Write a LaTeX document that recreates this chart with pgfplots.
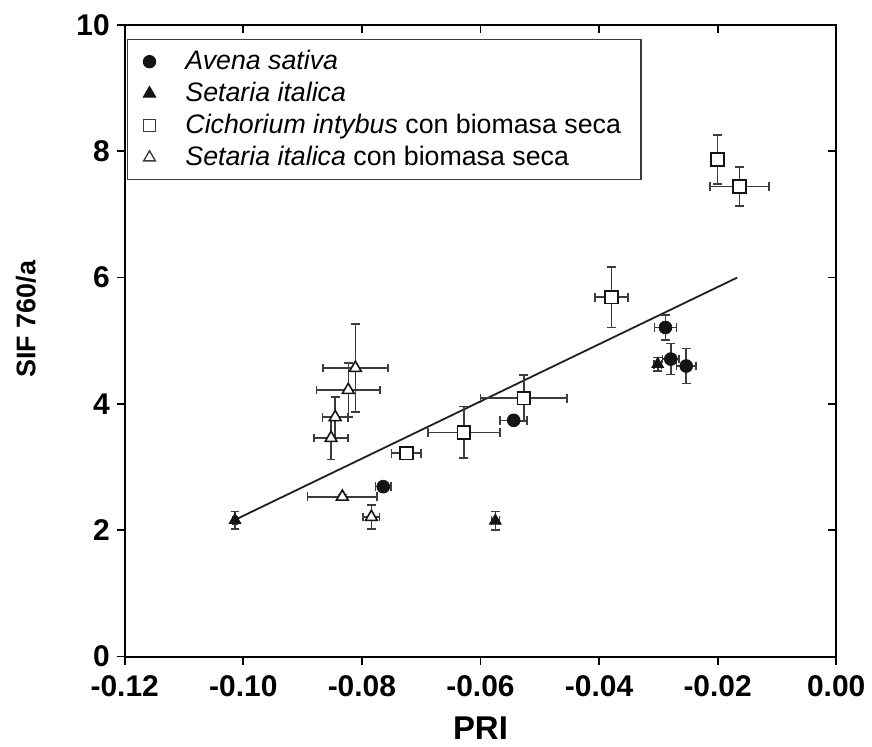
\documentclass[border=0pt]{standalone}
\usepackage{fontspec}
\setmainfont{Liberation Sans}
\usepackage{pgfplots}
\pgfplotsset{compat=1.18}
\usetikzlibrary{arrows.meta}
\definecolor{ebc}{RGB}{60,60,60}
\definecolor{mk}{RGB}{20,20,20}
\pgfplotsset{
  eb/.style={
    error bars/.cd, x dir=both, x explicit, y dir=both, y explicit,
    error mark=none,
    error bar style={line width=0.75pt, draw=ebc, solid, -{Bar[width=4.4pt, line width=0.75pt]}}},
}
\begin{document}
\begin{tikzpicture}
\begin{axis}[
  name=ax,
  scale only axis, width=356.5pt, height=316.5pt,
  xmin=-0.12, xmax=0, ymin=0, ymax=10,
  xtick={-0.12,-0.10,-0.08,-0.06,-0.04,-0.02,0},
  xticklabels={-0.12,-0.10,-0.08,-0.06,-0.04,-0.02,0.00},
  ytick={0,2,4,6,8,10}, yticklabels={0,2,4,6,8,10},
  xtick pos=bottom, ytick pos=left, tick align=outside,
  major tick length=4pt,
  tick style={black, line width=0.9pt},
  axis line style={line width=1pt},
  ticklabel style={font=\bfseries\fontsize{15}{16}\selectfont},
  xticklabel style={yshift=-2pt},
  xlabel={PRI}, ylabel={SIF 760/a},
  xlabel style={font=\bfseries\fontsize{16.5}{18}\selectfont, at={(axis description cs:0.5,-0.1137)}, anchor=center},
  ylabel style={font=\bfseries\fontsize{13.5}{15}\selectfont, at={(axis description cs:-0.1389,0.534)}, anchor=center},
  legend style={at={(axis description cs:0.003,0.978)}, anchor=north west,
    draw=ebc, line width=0.7pt, font=\fontsize{13.4}{16}\selectfont,
    row sep=0.8pt, inner xsep=8pt, inner ysep=3.5pt, nodes={inner ysep=2pt},
    /tikz/every odd column/.append style={column sep=13pt}},
  legend cell align=left,
]
\addlegendimage{only marks, mark=*, mark size=3pt, mark options={fill=mk, draw=mk}}
\addlegendentry{\textit{Avena sativa}}
\addlegendimage{only marks, mark=triangle*, mark size=3.4pt, mark options={fill=mk, draw=mk}}
\addlegendentry{\textit{Setaria italica}}
\addlegendimage{only marks, mark=square, mark size=3pt, mark options={fill=white, draw=ebc, line width=0.7pt}}
\addlegendentry{\textit{Cichorium intybus} con biomasa seca}
\addlegendimage{only marks, mark=triangle, mark size=3.4pt, mark options={fill=white, draw=ebc, line width=0.7pt}}
\addlegendentry{\textit{Setaria italica} con biomasa seca}

\addplot[gray!25!black, line width=0.9pt, forget plot] coordinates {(-0.1013,2.17) (-0.0167,6.0)};

% Cichorium intybus con biomasa seca
\addplot[only marks, forget plot, mark=square*, mark size=3.2pt, mark options={fill=white, draw=mk, line width=0.8pt}, eb]
table[x=x, y=y, x error=ex, y error=ey] {
x y ex ey
-0.0725 3.22 0.0026 0.10
-0.0628 3.55 0.0062 0.42
-0.0527 4.09 0.0074 0.38
-0.0379 5.69 0.0029 0.49
-0.0200 7.87 0.0008 0.40
-0.0163 7.44 0.0051 0.32
};
% Setaria italica con biomasa seca
\addplot[only marks, forget plot, mark=triangle*, mark size=3.4pt, mark options={fill=white, draw=mk, line width=0.8pt}, eb]
table[x=x, y=y, x error=ex, y error=ey] {
x y ex ey
-0.0811 4.57 0.0056 0.71
-0.0823 4.22 0.0055 0.44
-0.0845 3.79 0.0023 0.33
-0.0852 3.46 0.0030 0.35
-0.0833 2.53 0.0060 0.05
-0.0784 2.21 0.0015 0.20
};
% Avena sativa
\addplot[only marks, forget plot, mark=*, mark size=3.2pt, mark options={fill=mk, draw=mk}, eb]
table[x=x, y=y, x error=ex, y error=ey] {
x y ex ey
-0.0764 2.69 0.0014 0.05
-0.0544 3.74 0.0024 0.08
-0.0288 5.21 0.0020 0.21
-0.0279 4.71 0.0015 0.26
-0.0253 4.60 0.0018 0.29
};
% Setaria italica
\addplot[only marks, forget plot, mark=triangle*, mark size=3.4pt, mark options={fill=mk, draw=mk}, eb]
table[x=x, y=y, x error=ex, y error=ey] {
x y ex ey
-0.1014 2.16 0.0005 0.15
-0.0575 2.15 0.0008 0.16
-0.0301 4.63 0.0008 0.12
};
\end{axis}
\begin{axis}[
  scale only axis, width=356.5pt, height=316.5pt,
  at={(ax.south west)}, anchor=south west,
  xmin=-0.12, xmax=0, ymin=0, ymax=10,
  xtick={-0.12,-0.10,-0.08,-0.06,-0.04,-0.02,0},
  ytick={0,2,4,6,8,10},
  xticklabels={}, yticklabels={},
  xtick pos=top, ytick pos=right, tick align=inside,
  major tick length=4pt,
  tick style={black, line width=0.9pt},
  axis line style={draw=none},
]
\end{axis}
\path ([xshift=-62.5pt,yshift=-43pt]ax.south west) rectangle ([xshift=17pt,yshift=12.5pt]ax.north east);
\end{tikzpicture}
\end{document}
